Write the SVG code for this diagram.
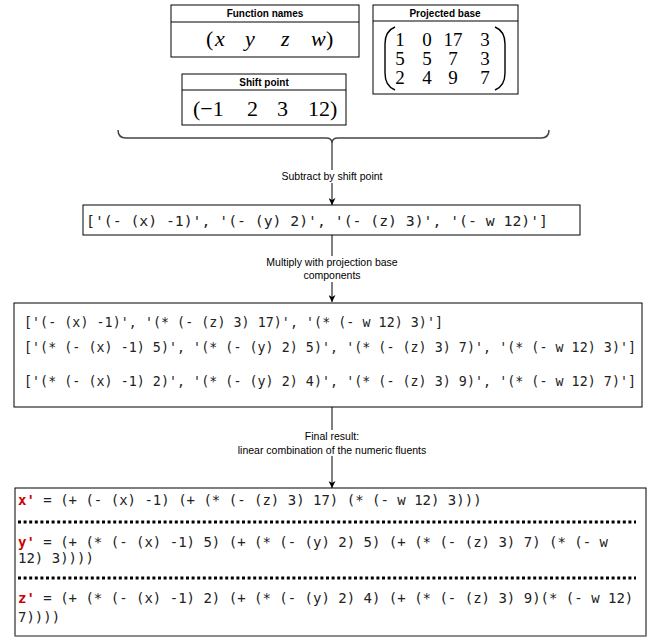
<svg xmlns="http://www.w3.org/2000/svg" width="651" height="637" viewBox="0 0 651 637">
<defs>
<style>
.box{fill:#fff;stroke:#000;stroke-width:1}
.hdr{font-family:"Liberation Sans",Arial,sans-serif;font-weight:bold;font-size:10px;fill:#000;text-anchor:middle}
.math{font-family:"Liberation Serif","DejaVu Serif",serif;font-size:22px;fill:#000}
.mat{font-family:"Liberation Serif","DejaVu Serif",serif;font-size:19px;fill:#000;text-anchor:middle}
.code{font-family:"DejaVu Sans Mono",monospace;fill:#222}
.lbl{font-family:"Liberation Sans",Arial,sans-serif;font-size:10.5px;fill:#000;text-anchor:middle}
.lblbg{fill:#fff}
.conn{stroke:#000;stroke-width:1;fill:none}
.red{fill:#cc0000;font-weight:bold}
.dots{stroke:#000;stroke-width:3;stroke-dasharray:3 2.6}
</style>
<marker id="arr" viewBox="0 0 10 10" refX="10" refY="5" markerWidth="7" markerHeight="7" markerUnits="userSpaceOnUse" orient="auto">
<path d="M0,0 L10,5 L0,10 L3,5 Z" fill="#000"/>
</marker>
</defs>

<g id="function-names">
<rect class="box" x="171" y="5" width="188" height="52"/>
<line x1="171" y1="22" x2="359" y2="22" stroke="#000"/>
<text class="hdr" x="265" y="17">Function names</text>
<text class="math" x="206" y="46">(</text>
<text class="math" x="215" y="46" font-style="italic">x</text>
<text class="math" x="245" y="46" font-style="italic">y</text>
<text class="math" x="281" y="46" font-style="italic">z</text>
<text class="math" x="311" y="46" font-style="italic">w</text>
<text class="math" x="326" y="46">)</text>
</g>

<g id="projected-base">
<rect class="box" x="373" y="5" width="145" height="89"/>
<line x1="373" y1="21" x2="518" y2="21" stroke="#000"/>
<text class="hdr" x="445" y="17">Projected base</text>
<path d="M395,27 Q385,31 385,44 L385,73 Q385,86 395,90" fill="none" stroke="#000" stroke-width="1.4"/>
<path d="M495,27 Q505,31 505,44 L505,73 Q505,86 495,90" fill="none" stroke="#000" stroke-width="1.4"/>
<text class="mat" x="400" y="46">1</text><text class="mat" x="427" y="46">0</text><text class="mat" x="453" y="46">17</text><text class="mat" x="485" y="46">3</text>
<text class="mat" x="400" y="65">5</text><text class="mat" x="427" y="65">5</text><text class="mat" x="453" y="65">7</text><text class="mat" x="485" y="65">3</text>
<text class="mat" x="400" y="84">2</text><text class="mat" x="427" y="84">4</text><text class="mat" x="453" y="84">9</text><text class="mat" x="485" y="84">7</text>
</g>

<g id="shift-point">
<rect class="box" x="182" y="74" width="164" height="51"/>
<line x1="182" y1="90" x2="346" y2="90" stroke="#000"/>
<text class="hdr" x="264" y="86">Shift point</text>
<text class="math" x="193" y="116">(−1</text>
<text class="math" x="247" y="116">2</text>
<text class="math" x="277" y="116">3</text>
<text class="math" x="308" y="116">12)</text>
</g>

<g id="brace">
<path d="M118,130 Q118,138 126,138 L326,138 Q332,138 332,143 Q332,138 338,138 L541,138 Q549,138 549,130" fill="none" stroke="#444" stroke-width="1.5"/>
</g>

<g id="shifted">
<rect class="box" x="83" y="205" width="497" height="30"/>
<text class="code" x="86" y="226" font-size="14.8px" textLength="462" lengthAdjust="spacing">['(- (x) -1)', '(- (y) 2)', '(- (z) 3)', '(- w 12)']</text>
</g>

<g id="multiplied">
<rect class="box" x="14" y="303" width="628" height="104"/>
<text class="code" x="24" y="327" font-size="13.3px" textLength="419" lengthAdjust="spacing">['(- (x) -1)', '(* (- (z) 3) 17)', '(* (- w 12) 3)']</text>
<text class="code" x="24" y="352" font-size="13.3px" textLength="612" lengthAdjust="spacing">['(* (- (x) -1) 5)', '(* (- (y) 2) 5)', '(* (- (z) 3) 7)', '(* (- w 12) 3)']</text>
<text class="code" x="24" y="386" font-size="13.3px" textLength="612" lengthAdjust="spacing">['(* (- (x) -1) 2)', '(* (- (y) 2) 4)', '(* (- (z) 3) 9)', '(* (- w 12) 7)']</text>
</g>

<g id="result">
<rect class="box" x="15" y="488" width="631" height="148"/>
<line x1="15" y1="636" x2="646" y2="636" stroke="#999" stroke-width="1"/>
<text class="code" x="18" y="505" font-size="14px"><tspan class="red">x'</tspan> = (+ (- (x) -1) (+ (* (- (z) 3) 17) (* (- w 12) 3)))</text>
<line class="dots" x1="18" y1="522" x2="636" y2="522"/>
<text class="code" x="18" y="547" font-size="14px"><tspan class="red">y'</tspan> = (+ (* (- (x) -1) 5) (+ (* (- (y) 2) 5) (+ (* (- (z) 3) 7) (* (- w</text>
<text class="code" x="18" y="563" font-size="14px">12) 3))))</text>
<line class="dots" x1="18" y1="578" x2="636" y2="578"/>
<text class="code" x="18" y="603" font-size="14px"><tspan class="red">z'</tspan> = (+ (* (- (x) -1) 2) (+ (* (- (y) 2) 4) (+ (* (- (z) 3) 9)(* (- w 12)</text>
<text class="code" x="18" y="622" font-size="14px">7))))</text>
</g>

<g id="connectors">
<line class="conn" x1="332" y1="143" x2="332" y2="205" marker-end="url(#arr)"/>
<rect class="lblbg" x="278" y="170" width="108" height="13"/>
<text class="lbl" x="332" y="180">Subtract by shift point</text>
<line class="conn" x1="332" y1="235" x2="332" y2="302" marker-end="url(#arr)"/>
<rect class="lblbg" x="260" y="256" width="144" height="26"/>
<text class="lbl" x="332" y="266">Multiply with projection base</text>
<text class="lbl" x="332" y="279">components</text>
<line class="conn" x1="332" y1="407" x2="332" y2="488" marker-end="url(#arr)"/>
<rect class="lblbg" x="230" y="430" width="204" height="26"/>
<text class="lbl" x="332" y="440">Final result:</text>
<text class="lbl" x="332" y="454">linear combination of the numeric fluents</text>
</g>
</svg>
